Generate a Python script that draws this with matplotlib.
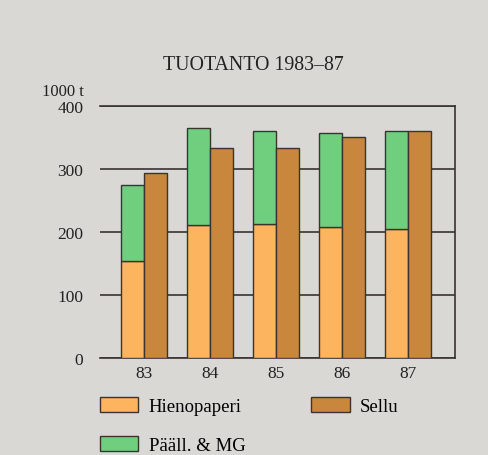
import numpy as np
import matplotlib
matplotlib.use("Agg")
from matplotlib import pyplot as plt
from matplotlib.patches import Patch

years = ["83", "84", "85", "86", "87"]
hienopaperi = np.array([154, 211, 212, 208, 205])
paall_total = np.array([275, 365, 360, 357, 360])   # top of stacked bar
sellu = np.array([294, 333, 334, 350, 360])
paall = paall_total - hienopaperi

title = "TUOTANTO 1983–87"
unit = "1000 t"
yticks = [0, 100, 200, 300, 400]

bg = "#d9d8d5"
c_hieno = "#fdb45e"
c_paall = "#6fcf7f"
c_sellu = "#c8873c"
edge = "#3a3330"

plt.rcParams['font.family'] = ['Liberation Serif', 'DejaVu Serif']

fig = plt.figure(figsize=(4.88, 4.56), dpi=100, facecolor=bg)
ax = fig.add_axes([0.205, 0.2127, 0.727, 0.5527])
ax.set_facecolor(bg)

x = np.arange(len(years))
w = 0.345
ax.bar(x - w/2, hienopaperi, w, color=c_hieno, edgecolor=edge, linewidth=1.0, zorder=3)
ax.bar(x - w/2, paall, w, bottom=hienopaperi, color=c_paall, edgecolor=edge, linewidth=1.0, zorder=3)
ax.bar(x + w/2, sellu, w, color=c_sellu, edgecolor=edge, linewidth=1.0, zorder=3)

ax.set_xlim(-0.67, 4.71)
ax.set_ylim(0, 400)
ax.set_yticks(yticks)
ax.set_xticks(x)
ax.set_xticklabels(years)
ax.yaxis.grid(True, color=edge, linewidth=1.2, zorder=0)
ax.tick_params(axis='both', length=0, labelsize=12.5, colors="#222222")
ax.tick_params(axis='y', pad=12)
ax.tick_params(axis='x', pad=5)
ax.spines['left'].set_visible(False)
for s in ['top', 'bottom', 'right']:
    ax.spines[s].set_color(edge)
    ax.spines[s].set_linewidth(1.2)

fig.text(0.52, 0.857, title, ha='center', va='center', fontsize=14.3, color="#222222")
fig.text(0.172, 0.798, unit, ha='right', va='center', fontsize=12, color="#222222")

handles = [Patch(facecolor=c_hieno, edgecolor=edge, label="Hienopaperi"),
           Patch(facecolor=c_paall, edgecolor=edge, label="Pääll. & MG"),
           Patch(facecolor=c_sellu, edgecolor=edge, label="Sellu")]
fig.legend(handles=handles, ncol=2, loc='upper left', bbox_to_anchor=(0.205, 0.128),
           frameon=False, fontsize=13.5, handlelength=2.05, handleheight=0.9,
           handletextpad=0.55, labelspacing=1.1, columnspacing=3.5, borderaxespad=0,
           borderpad=0)

fig.savefig("out.png", dpi=100, facecolor=bg)
